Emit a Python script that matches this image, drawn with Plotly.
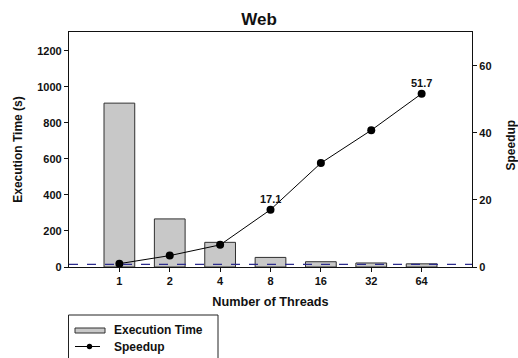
import plotly.graph_objects as go

# Web benchmark: execution time and speedup versus thread count
threads = ["1", "2", "4", "8", "16", "32", "64"]
exec_time = [910, 267, 137, 53.2, 29.3, 22.3, 17.6]
speedup = [1.0, 3.4, 6.6, 17.1, 31.0, 40.8, 51.7]
labelled_points = {"8": 17.1, "64": 51.7}
baseline_speedup = 0.8

pos = list(range(len(threads)))
FONT = "Liberation Sans, Arial, sans-serif"

fig = go.Figure()
fig.add_trace(go.Bar(
    x=pos, y=exec_time, width=0.61, name="Execution Time",
    marker=dict(color="#c8c8c8", line=dict(color="#303030", width=1)),
    yaxis="y",
))
fig.add_trace(go.Scatter(
    x=pos, y=speedup, mode="lines+markers", name="Speedup",
    line=dict(color="#000000", width=1),
    marker=dict(color="#000000", size=8),
    yaxis="y2",
))

# value labels above selected speedup points
for t, v in labelled_points.items():
    fig.add_annotation(
        x=threads.index(t), y=v, xref="x", yref="y2", text=f"<b>{v}</b>",
        showarrow=False, yshift=11, font=dict(family=FONT, size=11, color="#111"),
    )

# dashed reference line across the plot
fig.add_shape(type="line", xref="paper", x0=0, x1=1, yref="y2",
              y0=baseline_speedup, y1=baseline_speedup,
              line=dict(color="#2b2b8c", width=1.2, dash="dash"))

# hand-drawn legend below the plot
def px_x(p):
    return (p - 69) / 403

def px_y(p):
    return (267 - p) / 235

fig.add_shape(type="rect", xref="paper", yref="paper",
              x0=px_x(68.5), x1=px_x(218), y0=px_y(315), y1=px_y(380),
              line=dict(color="#222", width=1), fillcolor="rgba(0,0,0,0)")
fig.add_shape(type="rect", xref="paper", yref="paper",
              x0=px_x(75), x1=px_x(105), y0=px_y(333), y1=px_y(328),
              line=dict(color="#303030", width=1), fillcolor="#c8c8c8")
fig.add_shape(type="line", xref="paper", yref="paper",
              x0=px_x(75), x1=px_x(100), y0=px_y(346.5), y1=px_y(346.5),
              line=dict(color="#000", width=1))
fig.add_shape(type="circle", xref="paper", yref="paper",
              xsizemode="pixel", ysizemode="pixel",
              xanchor=px_x(89.5), yanchor=px_y(346.5),
              x0=-2.7, x1=2.7, y0=-2.7, y1=2.7,
              line=dict(color="#000", width=0), fillcolor="#000")
for label, yc in (("Execution Time", 330), ("Speedup", 346.5)):
    fig.add_annotation(xref="paper", yref="paper", x=px_x(112), y=px_y(yc),
                       text=f"<b>{label}</b>", showarrow=False,
                       xanchor="left", yanchor="middle",
                       font=dict(family=FONT, size=12, color="#111"))

axis_font = dict(family=FONT, size=11, color="#111")
title_font = dict(family=FONT, size=12, color="#111")

# right-hand axis title, reading bottom to top
fig.add_annotation(xref="paper", yref="paper", x=px_x(510), y=px_y(145.5),
                   text="<b>Speedup</b>", showarrow=False, textangle=-90,
                   xanchor="center", yanchor="middle", font=title_font)

fig.update_layout(
    width=518, height=358,
    margin=dict(l=69, r=46, t=32, b=91),
    paper_bgcolor="white", plot_bgcolor="white",
    showlegend=False,
    title=dict(text="<b>Web</b>", x=0.5, xanchor="center", y=0.9455,
               yanchor="middle", font=dict(family=FONT, size=17, color="#111")),
    xaxis=dict(
        range=[-1, 7], tickmode="array", tickvals=pos, ticktext=[f"<b>{t}</b>" for t in threads],
        showline=True, linecolor="#111", linewidth=1.2, mirror=True,
        ticks="outside", ticklen=4, tickcolor="#111", showgrid=False, zeroline=False,
        tickfont=axis_font,
        title=dict(text="<b>Number of Threads</b>", font=dict(family=FONT, size=12.7, color="#111"), standoff=10),
    ),
    yaxis=dict(
        range=[0, 1305], tickvals=[0, 200, 400, 600, 800, 1000, 1200],
        ticktext=[f"<b>{v}</b>" for v in [0, 200, 400, 600, 800, 1000, 1200]],
        showline=True, linecolor="#111", linewidth=1.2,
        ticks="outside", ticklen=4, tickcolor="#111", showgrid=False, zeroline=False,
        tickfont=axis_font,
        title=dict(text="<b>Execution Time (s)</b>", font=title_font, standoff=12),
    ),
    yaxis2=dict(
        range=[0, 70.1], tickvals=[0, 20, 40, 60],
        ticktext=[f"<b>{v}</b>" for v in [0, 20, 40, 60]],
        overlaying="y", side="right",
        showline=True, linecolor="#111", linewidth=1.2,
        ticks="outside", ticklen=4, tickcolor="#111", showgrid=False, zeroline=False,
        tickfont=axis_font,
    ),
)

fig.write_html("out.html")
